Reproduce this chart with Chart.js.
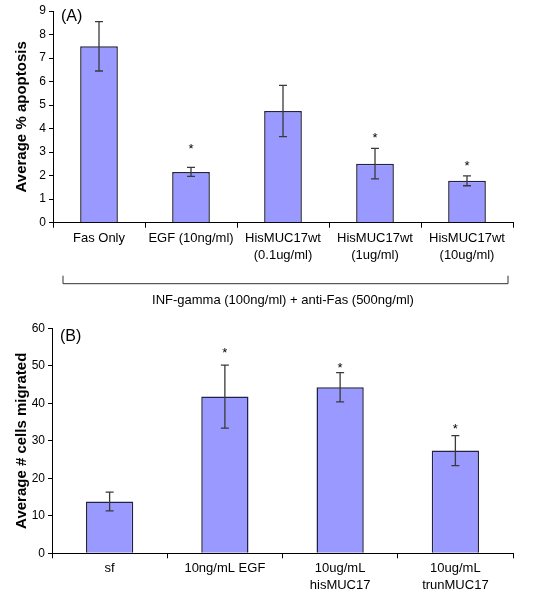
<!DOCTYPE html>
<html>
<head>
<meta charset="utf-8">
<script src="https://cdn.jsdelivr.net/npm/chart.js@4.4.0/dist/chart.umd.min.js"></script>
<style>
  body { margin: 0; background: #fff; }
  .panel { position: absolute; left: 0; width: 533px; }
  #wrapA { top: 0; height: 310px; }
  #wrapB { top: 310px; height: 290px; }
</style>
</head>
<body>
<div class="panel" id="wrapA"><canvas id="chartA"></canvas></div>
<div class="panel" id="wrapB"><canvas id="chartB"></canvas></div>
<script>
// Panel A data
const labelsA = ['Fas Only', 'EGF (10ng/ml)', ['HisMUC17wt', '(0.1ug/ml)'], ['HisMUC17wt', '(1ug/ml)'], ['HisMUC17wt', '(10ug/ml)']];
const meansA = [7.5, 2.16, 4.75, 2.51, 1.78];
const errA = [1.05, 0.19, 1.09, 0.65, 0.21];
const starsA = [null, 3.23, null, 3.73, 2.5];
const ticksA = [0, 1, 2, 3, 4, 5, 6, 7, 8, 9];

// Panel B data
const labelsB = ['sf', '10ng/mL EGF', ['10ug/mL', 'hisMUC17'], ['10ug/mL', 'trunMUC17']];
const meansB = [13.8, 41.8, 44.3, 27.4];
const errB = [2.5, 8.4, 3.9, 4.0];
const starsB = [null, 54.2, 50.2, 33.9];
const ticksB = [0, 10, 20, 30, 40, 50, 60];

const FONT = "'Liberation Sans', Arial, sans-serif";

// error bars, significance stars, panel letter
const decorations = {
  id: 'decorations',
  afterDatasetsDraw(chart, args, opts) {
    const ctx = chart.ctx;
    const y = chart.scales.y;
    const meta = chart.getDatasetMeta(0);
    ctx.save();
    ctx.strokeStyle = '#3a3a3a';
    ctx.lineWidth = 1.3;
    ctx.fillStyle = '#000';
    ctx.font = '13px ' + FONT;
    ctx.textAlign = 'center';
    ctx.textBaseline = 'middle';
    meta.data.forEach((bar, i) => {
      const m = opts.means[i], e = opts.errs[i];
      const yt = y.getPixelForValue(m + e);
      const yb = y.getPixelForValue(m - e);
      const cx = bar.x;
      ctx.beginPath();
      ctx.moveTo(cx, yt); ctx.lineTo(cx, yb);
      ctx.moveTo(cx - 4, yt); ctx.lineTo(cx + 4, yt);
      ctx.moveTo(cx - 4, yb); ctx.lineTo(cx + 4, yb);
      ctx.stroke();
      if (opts.stars[i] != null) {
        ctx.fillText('*', cx, y.getPixelForValue(opts.stars[i]) + 3);
      }
    });
    ctx.font = '16px ' + FONT;
    ctx.textAlign = 'left';
    ctx.fillText(opts.tag, chart.chartArea.left + 8, chart.chartArea.top + opts.tagDy);
    ctx.restore();
  }
};

// bracket under panel A's categories
const bracket = {
  id: 'bracket',
  afterDraw(chart, args, opts) {
    if (!opts.show) return;
    const ctx = chart.ctx;
    const x = chart.scales.x;
    const top = chart.chartArea.bottom + 53;
    const bot = top + 8;
    const l = x.left + 10, r = x.right - 5;
    ctx.save();
    ctx.strokeStyle = '#333';
    ctx.lineWidth = 1;
    ctx.beginPath();
    ctx.moveTo(l, top); ctx.lineTo(l, bot); ctx.lineTo(r, bot); ctx.lineTo(r, top);
    ctx.stroke();
    ctx.restore();
  }
};

function makeChart(id, cfg) {
  return new Chart(document.getElementById(id), {
    type: 'bar',
    data: {
      labels: cfg.labels,
      datasets: [{
        data: cfg.means,
        backgroundColor: '#9999ff',
        borderColor: '#222244',
        borderWidth: 1.5,
        categoryPercentage: 1,
        barPercentage: 0.41
      }]
    },
    options: {
      responsive: true,
      maintainAspectRatio: false,
      animation: false,
      layout: { padding: { left: 0, right: 20, top: cfg.top, bottom: 0 } },
      plugins: {
        legend: { display: false },
        tooltip: { enabled: false },
        decorations: { means: cfg.means, errs: cfg.errs, stars: cfg.stars, tag: cfg.tag, tagDy: cfg.tagDy },
        bracket: { show: !!cfg.caption }
      },
      scales: {
        x: {
          afterFit: s => { s.height = cfg.xHeight; },
          grid: { drawOnChartArea: false, drawTicks: true, tickLength: 5, color: '#000', offset: true },
          border: { color: '#000', width: 1 },
          ticks: { color: '#000', font: { family: FONT, size: 13, lineHeight: 1.3 }, padding: 2, maxRotation: 0, autoSkip: false },
          title: {
            display: !!cfg.caption,
            text: cfg.caption || '',
            color: '#000',
            font: { family: FONT, size: 13 },
            padding: { top: 0, bottom: 2 }
          }
        },
        y: {
          min: cfg.ticks[0],
          max: cfg.ticks[cfg.ticks.length - 1],
          afterBuildTicks: s => { s.ticks = cfg.ticks.map(v => ({ value: v })); },
          afterFit: s => { s.width = cfg.yWidth; },
          grid: { drawOnChartArea: false, drawTicks: true, tickLength: 4, color: '#000' },
          border: { color: '#000', width: 1 },
          ticks: { color: '#000', font: { family: FONT, size: 12 }, padding: 3 },
          title: {
            display: true,
            text: cfg.yTitle,
            color: '#000',
            font: { family: FONT, size: 15, weight: 'bold' },
            padding: { top: 13, bottom: 0 }
          }
        }
      }
    },
    plugins: [decorations, bracket]
  });
}

makeChart('chartA', {
  labels: labelsA, means: meansA, errs: errA, stars: starsA, ticks: ticksA,
  tag: '(A)', tagDy: 6, top: 11, xHeight: 87.3, yWidth: 53,
  yTitle: 'Average % apoptosis',
  caption: 'INF-gamma (100ng/ml) + anti-Fas (500ng/ml)'
});

makeChart('chartB', {
  labels: labelsB, means: meansB, errs: errB, stars: starsB, ticks: ticksB,
  tag: '(B)', tagDy: 8, top: 18.3, xHeight: 46.7, yWidth: 52,
  yTitle: 'Average # cells migrated'
});
</script>
</body>
</html>
